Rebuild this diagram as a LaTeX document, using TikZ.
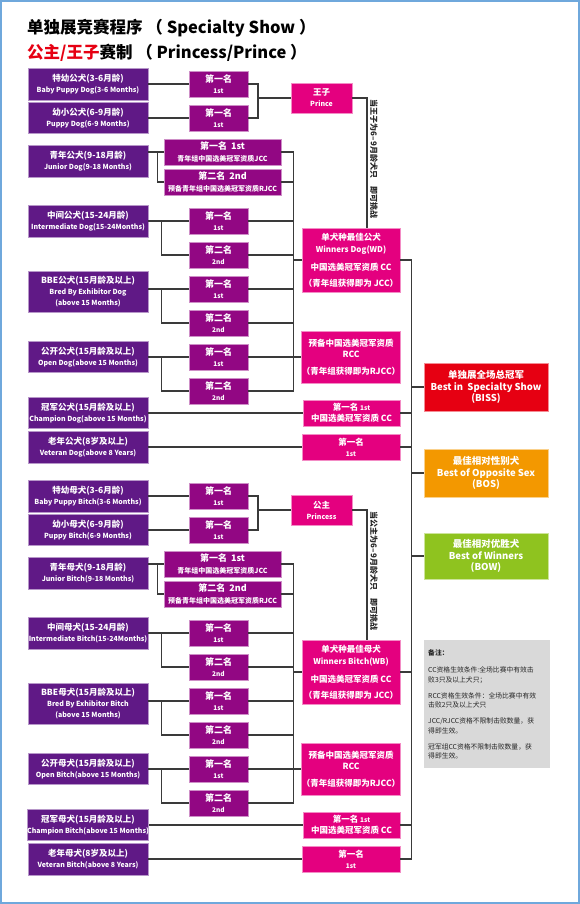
\documentclass[tikz,border=0pt]{standalone}
\usepackage{fontspec}
\setmainfont{Noto Sans CJK SC}
\definecolor{catpurple}{HTML}{601986}
\definecolor{placepurple}{HTML}{920783}
\definecolor{winpink}{HTML}{E4007F}
\definecolor{bissred}{HTML}{E60012}
\definecolor{bosorange}{HTML}{F39800}
\definecolor{bowgreen}{HTML}{8FC31F}
\definecolor{notegray}{HTML}{D9D9D9}
\definecolor{linkgray}{HTML}{3A3A3A}
\definecolor{frameblue}{HTML}{6FA8DC}
\definecolor{titlered}{HTML}{E60012}
\newcommand{\ensz}{\fontsize{7}{11.3}\selectfont}
\newcommand{\stsz}{\fontsize{6.5}{11}\selectfont}
\newcommand{\jsz}{\fontsize{7}{12}\selectfont}
\tikzset{font=\bfseries}
\tikzset{
  box/.style={fill=#1, draw=#1!45!white, line width=.8pt, text=white, align=center, inner sep=0pt},
  catbox/.style={box=catpurple, minimum width=120pt, minimum height=32pt, font=\bfseries\fontsize{8.5}{11.3}\selectfont},
  placebox/.style={box=placepurple, minimum width=59pt, minimum height=26pt, font=\bfseries\fontsize{9}{11.5}\selectfont},
  juniorbox/.style={box=placepurple, minimum width=117pt, minimum height=26pt, font=\bfseries\fontsize{9}{12}\selectfont},
  winbox/.style={box=winpink, minimum width=98pt, minimum height=26pt, font=\bfseries\fontsize{8.5}{11}\selectfont},
  bestbox/.style={box=#1, minimum width=124pt, minimum height=48pt, font=\bfseries\fontsize{9.5}{11.5}\selectfont},
  notebox/.style={fill=notegray, inner xsep=4pt, inner ysep=5pt, minimum width=125pt, minimum height=128pt, text width=118pt, align=left, text=black!85, font=\fontsize{6.8}{9.5}\selectfont},
  vnote/.style={rotate=-90, inner sep=0pt, text=black!85, font=\bfseries\fontsize{8}{10}\selectfont},
  link/.style={draw=linkgray, line width=1.1pt},
}

\begin{document}
\begin{tikzpicture}[x=1pt,y=-1pt]
\useasboundingbox (0,0) rectangle (580,904);
\draw[frameblue, line width=2pt] (1,1) rectangle (579,903);
\node[anchor=west, inner sep=0pt, font=\bfseries\fontsize{16.5}{20}\selectfont] (title) at (27,28) {单独展竞赛程序 （ Specialty Show ）};
\node[anchor=west, inner sep=0pt, font=\bfseries\fontsize{16.5}{20}\selectfont] (subtitle) at (27,53) {\textcolor{titlered}{公主/王子}赛制 （ Princess/Prince ）};

% dog classes
\node[catbox] (bpd) at (88,84) {特幼公犬(3-6月龄)\\{\ensz Baby Puppy Dog(3-6 Months)}};
\node[catbox, minimum height=31pt] (pd) at (88,118) {幼小公犬(6-9月龄)\\{\ensz Puppy Dog(6-9 Months)}};
\node[catbox] (jd) at (88,161) {青年公犬(9-18月龄)\\{\ensz Junior Dog(9-18 Months)}};
\node[catbox] (id) at (88,221) {中间公犬(15-24月龄)\\{\ensz Intermediate Dog(15-24Months)}};
\node[catbox, minimum height=41pt] (bbed) at (88,291.5) {BBE公犬(15月龄及以上)\\{\ensz Bred By Exhibitor Dog}\\{\ensz (above 15 Months)}};
\node[catbox, minimum height=31pt] (od) at (88,357) {公开公犬(15月龄及以上)\\{\ensz Open Dog(above 15 Months)}};
\node[catbox, minimum height=31pt] (cd) at (88,413) {冠军公犬(15月龄及以上)\\{\ensz Champion Dog(above 15 Months)}};
\node[catbox] (vd) at (88,447) {老年公犬(8岁及以上)\\{\ensz Veteran Dog(above 8 Years)}};

\node[placebox] (bpd1) at (218.5,84) {第一名\\{\stsz 1st}};
\node[placebox] (pd1) at (218.5,118) {第一名\\{\stsz 1st}};
\node[juniorbox] (jd1) at (222.5,152) {第一名~~1st\\{\jsz 青年组中国选美冠军资质JCC}};
\node[juniorbox] (jd2) at (222.5,182) {第二名~~2nd\\{\jsz 预备青年组中国选美冠军资质RJCC}};
\node[placebox] (id1) at (218.5,221) {第一名\\{\stsz 1st}};
\node[placebox] (id2) at (218.5,255) {第二名\\{\stsz 2nd}};
\node[placebox] (bbed1) at (218.5,289) {第一名\\{\stsz 1st}};
\node[placebox] (bbed2) at (218.5,323) {第二名\\{\stsz 2nd}};
\node[placebox] (od1) at (218.5,357) {第一名\\{\stsz 1st}};
\node[placebox] (od2) at (218.5,391) {第二名\\{\stsz 2nd}};

\node[winbox, minimum width=61pt, minimum height=30pt] (prince) at (321.5,98) {王子\\{\ensz Prince}};
\node[winbox, minimum height=64pt, font=\bfseries\fontsize{8.5}{12}\selectfont] (wd) at (351,260) {单犬种最佳公犬\\{\fontsize{8}{12}\selectfont Winners Dog(WD)}\\[6pt]中国选美冠军资质 CC\\[4pt]（青年组获得即为 JCC）};
\node[winbox, minimum height=52pt, font=\bfseries\fontsize{8.5}{10.5}\selectfont] (rccd) at (351,357) {预备中国选美冠军资质\\RCC\\[6.5pt]（青年组获得即为RJCC）};
\node[winbox, minimum width=97pt] (cd1) at (351.5,413) {第一名 {\stsz 1st}\\中国选美冠军资质 CC};
\node[winbox] (vd1) at (351,447) {第一名\\{\stsz 1st}};
\node[vnote] (pnote) at (374,159) {当王子为6–9月龄犬只\quad 即可挑战};

% bitch classes
\node[catbox] (bpb) at (88,496) {特幼母犬(3-6月龄)\\{\ensz Baby Puppy Bitch(3-6 Months)}};
\node[catbox, minimum height=31pt] (pb) at (88,530) {幼小母犬(6-9月龄)\\{\ensz Puppy Bitch(6-9 Months)}};
\node[catbox] (jb) at (88,573) {青年母犬(9-18月龄)\\{\ensz Junior Bitch(9-18 Months)}};
\node[catbox] (ib) at (88,633) {中间母犬(15-24月龄)\\{\ensz Intermediate Bitch(15-24Months)}};
\node[catbox, minimum height=41pt] (bbeb) at (88,703.5) {BBE母犬(15月龄及以上)\\{\ensz Bred By Exhibitor Bitch}\\{\ensz (above 15 Months)}};
\node[catbox, minimum height=31pt] (ob) at (88,769) {公开母犬(15月龄及以上)\\{\ensz Open Bitch(above 15 Months)}};
\node[catbox, minimum height=31pt] (cb) at (88,825) {冠军母犬(15月龄及以上)\\{\ensz Champion Bitch(above 15 Months)}};
\node[catbox] (vb) at (88,859) {老年母犬(8岁及以上)\\{\ensz Veteran Bitch(above 8 Years)}};

\node[placebox] (bpb1) at (218.5,496) {第一名\\{\stsz 1st}};
\node[placebox] (pb1) at (218.5,530) {第一名\\{\stsz 1st}};
\node[juniorbox] (jb1) at (222.5,564) {第一名~~1st\\{\jsz 青年组中国选美冠军资质JCC}};
\node[juniorbox] (jb2) at (222.5,594) {第二名~~2nd\\{\jsz 预备青年组中国选美冠军资质RJCC}};
\node[placebox] (ib1) at (218.5,633) {第一名\\{\stsz 1st}};
\node[placebox] (ib2) at (218.5,667) {第二名\\{\stsz 2nd}};
\node[placebox] (bbeb1) at (218.5,701) {第一名\\{\stsz 1st}};
\node[placebox] (bbeb2) at (218.5,735) {第二名\\{\stsz 2nd}};
\node[placebox] (ob1) at (218.5,769) {第一名\\{\stsz 1st}};
\node[placebox] (ob2) at (218.5,803) {第二名\\{\stsz 2nd}};

\node[winbox, minimum width=61pt, minimum height=30pt] (princess) at (321.5,510) {公主\\{\ensz Princess}};
\node[winbox, minimum height=64pt, font=\bfseries\fontsize{8.5}{12}\selectfont] (wb) at (351,672) {单犬种最佳母犬\\{\fontsize{8}{12}\selectfont Winners Bitch(WB)}\\[6pt]中国选美冠军资质 CC\\[4pt]（青年组获得即为 JCC）};
\node[winbox, minimum height=52pt, font=\bfseries\fontsize{8.5}{10.5}\selectfont] (rccb) at (351,769) {预备中国选美冠军资质\\RCC\\[6.5pt]（青年组获得即为RJCC）};
\node[winbox, minimum width=97pt] (cb1) at (351.5,825) {第一名 {\stsz 1st}\\中国选美冠军资质 CC};
\node[winbox] (vb1) at (351,859) {第一名\\{\stsz 1st}};
\node[vnote] (bnote) at (374,571) {当公主为6–9月龄犬只\quad 即可挑战};

% best awards
\node[bestbox=bissred] (biss) at (486,387) {单独展全场总冠军\\Best in~ Specialty Show\\(BISS)};
\node[bestbox=bosorange] (bos) at (486,473) {最佳相对性别犬\\Best of Opposite Sex\\(BOS)};
\node[bestbox=bowgreen, minimum height=46pt] (bow) at (486,556) {最佳相对优胜犬\\Best of Winners\\(BOW)};
\node[notebox, anchor=north west] (note) at (424,640) {{\bfseries 备注：}\\[8pt]
CC资格生效条件:全场比赛中有效击\\败3只及以上犬只；\\[6.5pt]
RCC资格生效条件：全场比赛中有效\\击败2只及以上犬只\\[6.5pt]
JCC/RJCC资格不限制击败数量，获\\得即生效。\\[6.5pt]
冠军组CC资格不限制击败数量，获\\得即生效。};

% dog links
\coordinate (pdog) at (258,98);
\draw[link] (bpd) -- (bpd1);
\draw[link] (pd) -- (pd1);
\draw[link] (bpd1.east) -| (pdog) |- (pd1.east);
\draw[link] (pdog) -- (prince);
\draw[link] (prince) -| ([xshift=16pt]wd.north);
\draw[link] (jd.east |- jd1) -- (jd1);
\draw[link] (jd.east |- jd1) ++(9,0) |- (jd2);
\draw[link] (id) -- (id1);
\draw[link] (id.east) ++(13,0) |- (id2);
\draw[link] (bbed.east |- bbed1) -- (bbed1);
\draw[link] (bbed.east |- bbed1) ++(13,0) |- (bbed2);
\draw[link] (od) -- (od1);
\draw[link] (od.east) ++(13,0) |- (od2);
\draw[link] (jd1.east) -- ++(12,0) coordinate (dcol) -- (dcol |- od2) -- (od2.east);
\draw[link] (jd2.east) -- (jd2.east -| dcol);
\draw[link] (id1.east) -- (id1.east -| dcol);
\draw[link] (id2.east) -- (id2.east -| dcol);
\draw[link] (bbed1.east) -- (bbed1.east -| dcol);
\draw[link] (bbed2.east) -- (bbed2.east -| dcol);
\draw[link] (od1) -- (rccd);
\draw[link] (dcol |- wd) -- (wd);
\draw[link] (cd) -- (cd1);
\draw[link] (vd) -- (vd1);

% bitch links
\coordinate (pbitch) at (258,510);
\draw[link] (bpb) -- (bpb1);
\draw[link] (pb) -- (pb1);
\draw[link] (bpb1.east) -| (pbitch) |- (pb1.east);
\draw[link] (pbitch) -- (princess);
\draw[link] (princess) -| ([xshift=16pt]wb.north);
\draw[link] (jb.east |- jb1) -- (jb1);
\draw[link] (jb.east |- jb1) ++(9,0) |- (jb2);
\draw[link] (ib) -- (ib1);
\draw[link] (ib.east) ++(13,0) |- (ib2);
\draw[link] (bbeb.east |- bbeb1) -- (bbeb1);
\draw[link] (bbeb.east |- bbeb1) ++(13,0) |- (bbeb2);
\draw[link] (ob) -- (ob1);
\draw[link] (ob.east) ++(13,0) |- (ob2);
\draw[link] (jb1.east) -- ++(12,0) coordinate (bcol) -- (bcol |- ob2) -- (ob2.east);
\draw[link] (jb2.east) -- (jb2.east -| bcol);
\draw[link] (ib1.east) -- (ib1.east -| bcol);
\draw[link] (ib2.east) -- (ib2.east -| bcol);
\draw[link] (bbeb1.east) -- (bbeb1.east -| bcol);
\draw[link] (bbeb2.east) -- (bbeb2.east -| bcol);
\draw[link] (ob1) -- (rccb);
\draw[link] (bcol |- wb) -- (wb);
\draw[link] (cb) -- (cb1);
\draw[link] (vb) -- (vb1);

% final
\draw[link] (wd.east) -- ++(11,0) coordinate (rcol) -- (rcol |- vb1) -- (vb1.east);
\draw[link] (cd1.east) -- (cd1.east -| rcol);
\draw[link] (vd1.east) -- (vd1.east -| rcol);
\draw[link] (wb.east) -- (wb.east -| rcol);
\draw[link] (cb1.east) -- (cb1.east -| rcol);
\draw[link] (rcol |- biss) -- (biss);
\draw[link] (rcol |- bos) -- (bos);
\draw[link] (rcol |- bow) -- (bow);
\end{tikzpicture}
\end{document}
